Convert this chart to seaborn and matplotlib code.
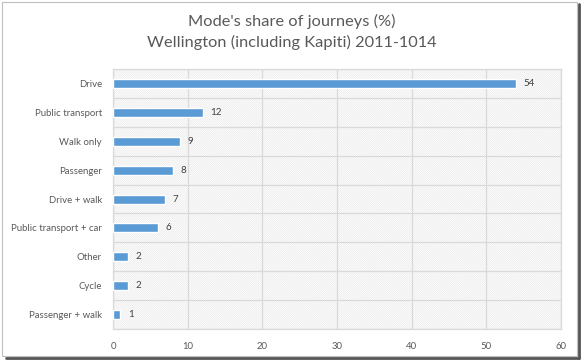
import matplotlib
matplotlib.use("Agg")
import matplotlib.pyplot as plt
import matplotlib.patches as mpatches
import seaborn as sns
import pandas as pd

modes = ["Drive", "Public transport", "Walk only", "Passenger", "Drive + walk",
         "Public transport + car", "Other", "Cycle", "Passenger + walk"]
share = [54, 12, 9, 8, 7, 6, 2, 2, 1]
x_ticks = [0, 10, 20, 30, 40, 50, 60]

df = pd.DataFrame({"mode": modes, "share": share})

sns.set_style("white")
plt.rcParams["font.family"] = ["Lato", "DejaVu Sans"]
plt.rcParams["hatch.color"] = "#eaeaea"
plt.rcParams["hatch.linewidth"] = 0.5

text_col = "#595959"
grid_col = "#d9d9d9"

fig = plt.figure(figsize=(5.84, 3.6), dpi=100)
ax = fig.add_axes([0.1935, 0.0861, 0.767, 0.722])

# hatched plot area background
ax.add_patch(mpatches.Rectangle((0, 0), 1, 1, transform=ax.transAxes,
                                facecolor="white", edgecolor="#eaeaea",
                                hatch="\\" * 16, linewidth=0, zorder=0))

sns.barplot(data=df, x="share", y="mode", color="#5b9bd5", width=0.31,
            saturation=1, ax=ax, zorder=3)

ax.set_xlim(0, 60)
ax.set_ylim(len(modes) - 0.5, -0.5)
ax.set_xticks(x_ticks)
ax.set_xticklabels([str(t) for t in x_ticks])
ax.set_yticks([i + 0.5 for i in range(-1, len(modes))], minor=True)

ax.grid(axis="x", which="major", color=grid_col, linewidth=0.9, zorder=1)
ax.grid(axis="y", which="minor", color=grid_col, linewidth=0.9, zorder=1)
ax.grid(axis="y", which="major", visible=False)
ax.set_axisbelow(True)

for s in ax.spines.values():
    s.set_color(grid_col)
    s.set_linewidth(0.9)

ax.tick_params(axis="both", which="both", length=0, colors=text_col, labelsize=6.9)
ax.tick_params(axis="x", pad=9)
ax.tick_params(axis="y", pad=8)
ax.set_xlabel("")
ax.set_ylabel("")

for i, v in enumerate(share):
    ax.text(v + 1.0, i, str(v), va="center", ha="left", fontsize=7, color="#404040")

fig.suptitle("Mode's share of journeys (%)\nWellington (including Kapiti) 2011-1014",
             y=0.962, fontsize=11.8, color=text_col, linespacing=1.55)

# screenshot frame with shadow
fig.add_artist(mpatches.Rectangle((0.004, 0.012), 0.984, 0.982, transform=fig.transFigure,
                                  fill=False, edgecolor="#bfbfbf", linewidth=0.8))
fig.add_artist(plt.Line2D([0.992, 0.992], [0.005, 0.99], transform=fig.transFigure,
                          color="#555555", linewidth=2))
fig.add_artist(plt.Line2D([0.01, 0.992], [0.006, 0.006], transform=fig.transFigure,
                          color="#555555", linewidth=2))

fig.savefig("out.png", dpi=100)
